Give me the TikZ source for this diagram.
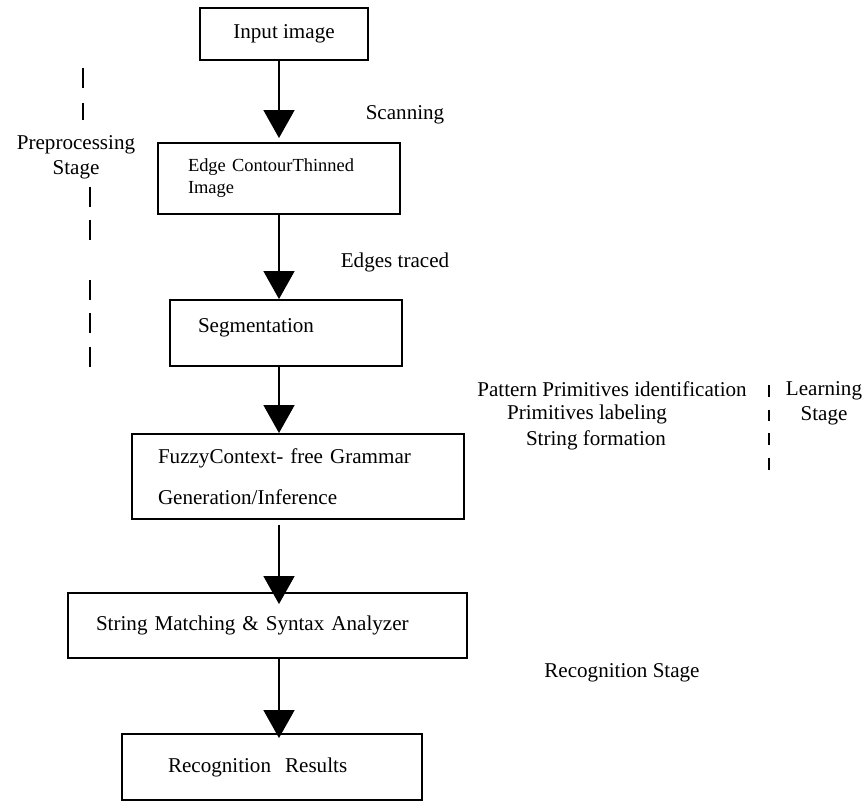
\documentclass[tikz,border=0pt]{standalone}
\usepackage{fontspec}
\setmainfont{Liberation Serif}
\usetikzlibrary{arrows.meta}
\newcommand{\unitpx}{0.02cm}
\tikzset{
  stagebox/.style={draw,line width=1.1pt,inner sep=0pt,font=\fontsize{12}{14}\selectfont},
  flow/.style={line width=0.95pt,-{Triangle[width=0.62cm,length=0.56cm]}},
  note/.style={inner sep=0pt,font=\fontsize{12}{14}\selectfont},
  bar/.style={line width=1.1pt}
}
\begin{document}
\begin{tikzpicture}[x=\unitpx,y=-\unitpx]
	\useasboundingbox (0,0) rectangle (867,802);
	\coordinate (spine) at (279,0);
	\node[stagebox,minimum width=168*\unitpx,minimum height=52*\unitpx] (input) at (284,34) {Input image};
	\node[stagebox,text width=182*\unitpx,inner xsep=30*\unitpx,minimum height=71*\unitpx,align=left,font=\fontsize{10.5}{12.5}\selectfont] (edge) at (279,178.5) {Edge ContourThinned\\Image};
	\node[stagebox,text width=176*\unitpx,inner xsep=28*\unitpx,minimum height=66*\unitpx,align=left] (seg) at (286,333) {Segmentation\\[-6pt]\mbox{}};
	\node[stagebox,text width=280*\unitpx,inner xsep=26*\unitpx,minimum height=85*\unitpx,align=left] (fuzzy) at (298,476.5) {FuzzyContext- free Grammar\\[9pt]Generation/Inference};
	\node[stagebox,text width=343*\unitpx,inner xsep=28*\unitpx,minimum height=65*\unitpx,align=left] (match) at (267.5,625.5) {String Matching \& Syntax Analyzer};
	\node[stagebox,text width=208*\unitpx,inner xsep=46*\unitpx,minimum height=66*\unitpx,align=left] (result) at (272,767) {Recognition~~Results};
	\draw[flow,shorten >=0.08cm] (input.south -| spine) -- (edge.north -| spine);
	\draw[flow] (edge.south -| spine) -- (seg.north -| spine);
	\draw[flow] (seg.south -| spine) -- (fuzzy.north -| spine);
	\draw[flow,shorten <=0.1cm,shorten >=-0.24cm] (fuzzy.south -| spine) -- (match.north -| spine);
	\draw[flow,shorten >=-0.1cm] (match.south -| spine) -- (result.north -| spine);
	\node[note] (scan) at (405,115) {Scanning};
	\node[note] (traced) at (395,262) {Edges traced};
	\node[note,align=center] (prep) at (76,157) {Preprocessing\\Stage};
	\node[note] (pat1) at (612,389) {Pattern Primitives identification};
	\node[note] (pat2) at (587,414) {Primitives labeling};
	\node[note] (pat3) at (596,440) {String formation};
	\node[note,align=center] (learn) at (824,403) {Learning\\Stage};
	\node[note] (recog) at (622,673) {Recognition Stage};
	\foreach \a/\b in {68/88,103/120} \draw[bar] (83,\a) -- (83,\b);
	\foreach \a/\b in {187/207,220/240,280/300,313/333,347/367} \draw[bar] (90,\a) -- (90,\b);
	\foreach \a/\b in {385/397,410/421,433/445,458/470} \draw[bar] (769,\a) -- (769,\b);
\end{tikzpicture}
\end{document}
